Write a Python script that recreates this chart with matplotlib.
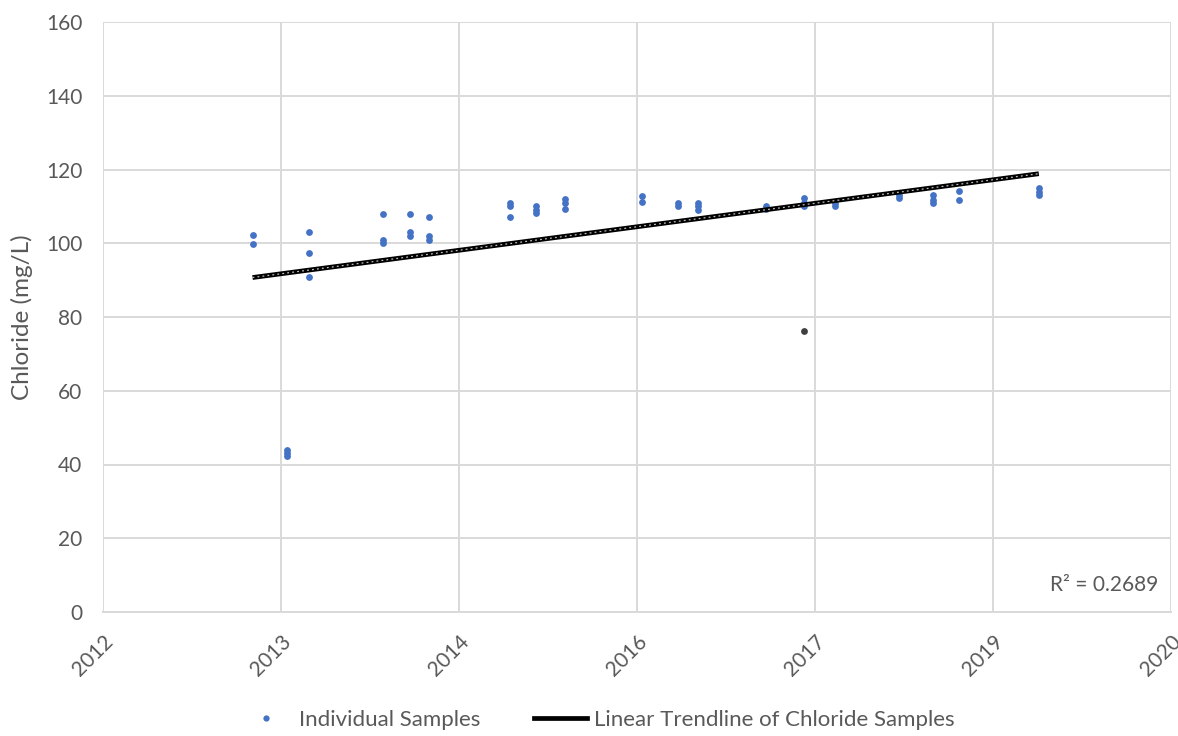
import numpy as np
import matplotlib
matplotlib.use("Agg")
import matplotlib.pyplot as plt
from matplotlib.lines import Line2D
from matplotlib.transforms import ScaledTranslation

plt.rcParams['font.family'] = ['Lato', 'DejaVu Sans']

# Sampling dates (decimal years) and chloride concentrations (mg/L)
sample_years = [
    2013.12, 2013.12,
    2013.38, 2013.38, 2013.38,
    2013.54, 2013.54, 2013.54,
    2014.10, 2014.10, 2014.10,
    2014.30, 2014.30, 2014.30,
    2014.44, 2014.44, 2014.44,
    2015.05, 2015.05, 2015.05,
    2015.24, 2015.24, 2015.24,
    2015.46, 2015.46, 2015.46,
    2016.04, 2016.04,
    2016.31, 2016.31,
    2016.46, 2016.46, 2016.46,
    2016.97, 2016.97,
    2017.25, 2017.25, 2017.25,
    2017.48, 2017.48,
    2017.96, 2017.96,
    2018.22, 2018.22, 2018.22,
    2018.41, 2018.41,
    2019.01, 2019.01, 2019.01,
]
sample_chloride = [
    102.2, 99.8,
    44.0, 43.0, 42.2,
    103.0, 97.4, 90.8,
    108.0, 101.0, 100.0,
    108.0, 103.0, 102.0,
    107.0, 102.0, 101.0,
    111.0, 110.2, 107.0,
    110.0, 109.0, 108.2,
    112.0, 111.0, 109.2,
    112.8, 111.3,
    110.8, 110.0,
    111.0, 110.0, 108.9,
    110.0, 109.2,
    112.2, 111.0, 110.0,
    110.9, 110.0,
    113.0, 112.3,
    113.0, 111.8, 110.8,
    114.3, 111.8,
    115.0, 114.0, 113.0,
]

# Flagged sample, drawn in grey
flagged_year = [2017.25]
flagged_chloride = [76.2]

x_tick_positions = list(np.linspace(2012, 2020, 7))
x_tick_labels = ["2012", "2013", "2014", "2016", "2017", "2019", "2020"]
y_ticks = [0, 20, 40, 60, 80, 100, 120, 140, 160]

r_squared_text = "R\u00b2 = 0.2689"

text_color = "#595959"
grid_color = "#d9d9d9"
blue = "#4472C4"

fig = plt.figure(figsize=(11.78, 7.36), dpi=100)
ax = fig.add_axes([103 / 1178, 1 - 612 / 736, (1171 - 103) / 1178, (612 - 22) / 736])

ax.scatter(sample_years, sample_chloride, s=24, color=blue, zorder=3, linewidths=0)
ax.scatter(flagged_year, flagged_chloride, s=24, color="#404040", zorder=3, linewidths=0)

# Linear trend fitted to all samples
all_x = np.array(sample_years + flagged_year)
all_y = np.array(sample_chloride + flagged_chloride)
coef = np.polyfit(all_x, all_y, 1)
tx = np.array([all_x.min(), all_x.max()])
ty = np.polyval(coef, tx)
ax.plot(tx, ty, color="black", lw=3.4, zorder=4, solid_capstyle="butt")
ax.plot(tx, ty, color="white", lw=0.9, zorder=5, dashes=(1.5, 2.5), alpha=0.75)

ax.set_xlim(2012, 2020)
ax.set_ylim(0, 160)
ax.set_xticks(x_tick_positions)
ax.set_xticklabels(x_tick_labels, rotation=45, ha="right", va="center",
                   rotation_mode="anchor")
ax.set_yticks(y_ticks)
ax.grid(True, color=grid_color, lw=1.4)
ax.set_axisbelow(True)
for side in ["left", "right", "top"]:
    ax.spines[side].set_visible(False)
ax.spines["bottom"].set_color(grid_color)
ax.spines["bottom"].set_linewidth(1.4)
ax.tick_params(axis="both", length=0, colors=text_color, labelsize=15)
ax.tick_params(axis="y", pad=15)
ax.tick_params(axis="x", pad=19)
for lab in ax.get_xticklabels():
    lab.set_transform(lab.get_transform() + ScaledTranslation(0.07, 0, fig.dpi_scale_trans))

ax.set_ylabel("Chloride (mg/L)", color=text_color, fontsize=17.5)
ax.yaxis.set_label_coords(22 / 1178, 1 - 317 / 736, transform=fig.transFigure)
ax.yaxis.label.set_verticalalignment("center")

ax.text(1158 / 1178, 1 - 585 / 736, r_squared_text, transform=fig.transFigure,
        ha="right", va="center", color=text_color, fontsize=15)

handles = [
    Line2D([], [], marker="o", ls="none", color=blue, markersize=4.5, markeredgewidth=0),
    Line2D([], [], color="black", lw=3.4),
]
fig.legend(handles, ["Individual Samples", "Linear Trendline of Chloride Samples"],
           loc="center", bbox_to_anchor=(0.5 + 8 / 1178, 1 - 720 / 736), ncol=2,
           frameon=False, fontsize=16, labelcolor=text_color, handlelength=2.4,
           columnspacing=2.4, handletextpad=0.3)

fig.savefig("out.png", dpi=100)
